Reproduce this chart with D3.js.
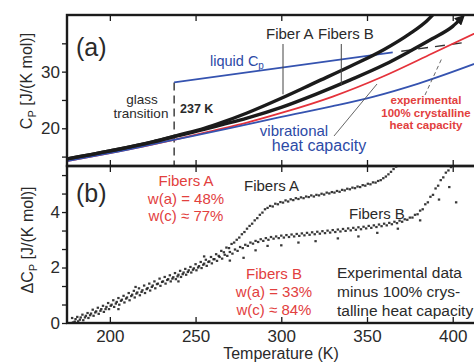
<!DOCTYPE html>
<html>
<head>
<meta charset="utf-8">
<script src="https://cdn.jsdelivr.net/npm/d3@7/dist/d3.min.js"></script>
<style>
  html, body { margin: 0; padding: 0; background: #fff; }
  svg { display: block; }
  text { font-family: "Liberation Sans", Arial, sans-serif; }
</style>
</head>
<body>
<svg id="chart" width="474" height="362"></svg>
<script>
// ---- Temperature axis ----
const tempTicks = [200, 250, 300, 350, 400];

// ---- Panel (a): heat capacity, J/(K mol) ----
const cpTicks = [15, 20, 25, 30, 35];
const cpLabeled = [20, 30];
const glassT = 237.5;

const fiberA = [[175,14.6],[200,16.0],[225,17.6],[240,18.8],[255,20.0],[265,21.0],[280,22.7],[300,25.3],[320,28.1],[340,30.9],[360,33.9],[375,36.7],[385,39.0],[392,41.2]];
const fibersB = [[175,14.6],[200,16.0],[225,17.6],[240,18.7],[255,19.8],[265,20.6],[280,21.8],[300,23.7],[320,26.0],[340,28.5],[360,31.2],[375,33.6],[388,35.8],[400,38.0],[405,39.4]];
const crystalline = [[175,14.2],[200,15.6],[238,18.0],[260,19.55],[280,21.0],[300,22.7],[330,25.6],[359,29.1],[388,33.2],[420,37.8]];
const vibrational = [[175,14.2],[200,15.6],[238,18.0],[268,19.9],[300,22.0],[330,23.9],[354,25.6],[380,27.9],[420,32.2]];
const liquid = [[237.5,28.1],[365,33.4]];
const liquidExtension = [[370,33.6],[406,35.1]];

// ---- Panel (b): excess heat capacity, J/(K mol) ----
const dcpTicks = [0, 2/3, 4/3, 2, 8/3, 10/3, 4, 14/3, 16/3];
const dcpLabeled = [0, 2, 4];

const deltaA = [[178,0.18],[179.5,0.05],[181,0.22],[182.5,0.12],[184,0.3],[185.5,0.2],[187,0.36],[188.5,0.28],[190,0.48],[191.5,0.38],[193,0.55],[194.5,0.44],[196,0.62],[197.5,0.5],[199,0.72],[200.5,0.62],[202,0.82],[203.5,0.7],[205,0.9],[206.5,0.8],[208,0.98],[209.5,0.88],[211,1.08],[212.5,0.97],[214,1.16],[215.5,1.06],[217,1.25],[218.5,1.12],[220,1.35],[221.5,1.22],[223,1.42],[224.5,1.3],[226,1.5],[227.5,1.4],[229,1.6],[230.5,1.48],[232,1.66],[233.5,1.55],[235,1.72],[236.5,1.6],[238,1.8],[239.5,1.68],[241,1.88],[242.5,1.76],[244,1.95],[245.5,1.84],[247,2.02],[248.5,1.92],[250,2.12],[251.5,2.0],[253,2.2],[254.5,2.1],[256,2.28],[257.5,2.2],[259,2.38],[260.5,2.3],[262,2.48],[263.5,2.42],[265,2.6],[266.5,2.55],[268,2.72],[269.5,2.7],[271,2.85],[272.5,2.9],[274,3.0],[275.5,3.08],[277,3.2],[278.5,3.28],[280,3.4],[281.5,3.5],[283,3.58],[284.5,3.7],[286,3.78],[287.5,3.9],[289,3.98],[290.5,4.1],[292,4.15],[293.5,4.22],[295,4.2],[296.5,4.3],[298,4.28],[299.5,4.36],[301,4.34],[302.5,4.42],[304,4.38],[305.5,4.46],[307,4.43],[308.5,4.5],[310,4.47],[311.5,4.53],[313,4.5],[314.5,4.56],[316,4.54],[317.5,4.6],[319,4.56],[320.5,4.62],[322,4.6],[323.5,4.66],[325,4.63],[326.5,4.7],[328,4.67],[329.5,4.72],[331,4.7],[332.5,4.76],[334,4.73],[335.5,4.8],[337,4.78],[338.5,4.84],[340,4.82],[341.5,4.88],[343,4.86],[344.5,4.92],[346,4.9],[347.5,4.97],[349,4.95],[350.5,5.02],[352,5.0],[353.5,5.07],[355,5.06],[356.5,5.12],[358,5.15],[359.5,5.22],[361,5.28],[362.5,5.36],[364,5.45],[365.5,5.55],[367,5.64]];

const deltaB = [[178.5,0.02],[180,0.14],[181.5,0.06],[183,0.2],[184.5,0.1],[186,0.26],[187.5,0.18],[189,0.34],[190.5,0.26],[192,0.42],[193.5,0.33],[195,0.5],[196.5,0.4],[198,0.58],[199.5,0.5],[201,0.66],[202.5,0.58],[204,0.76],[205.5,0.66],[207,0.84],[208.5,0.74],[210,0.92],[211.5,0.82],[213,1.02],[214.5,0.92],[216,1.1],[217.5,1.0],[219,1.18],[220.5,1.08],[222,1.26],[223.5,1.17],[225,1.35],[226.5,1.25],[228,1.42],[229.5,1.34],[231,1.5],[232.5,1.42],[234,1.58],[235.5,1.5],[237,1.65],[238.5,1.58],[240,1.74],[241.5,1.66],[243,1.82],[244.5,1.74],[246,1.9],[247.5,1.82],[249,1.97],[250.5,1.9],[252,2.05],[253.5,1.98],[255,2.14],[256.5,2.06],[258,2.22],[259.5,2.15],[261,2.3],[262.5,2.24],[264,2.38],[265.5,2.32],[267,2.46],[268.5,2.42],[270,2.56],[271.5,2.5],[273,2.65],[274.5,2.6],[276,2.74],[277.5,2.7],[279,2.82],[280.5,2.78],[282,2.9],[283.5,2.86],[285,2.96],[286.5,2.92],[288,3.02],[289.5,2.96],[291,3.06],[292.5,3.0],[294,3.1],[295.5,3.04],[297,3.12],[298.5,3.06],[300,3.15],[301.5,3.08],[303,3.17],[304.5,3.1],[306,3.19],[307.5,3.12],[309,3.21],[310.5,3.14],[312,3.23],[313.5,3.16],[315,3.25],[316.5,3.18],[318,3.27],[319.5,3.2],[321,3.29],[322.5,3.22],[324,3.31],[325.5,3.24],[327,3.33],[328.5,3.26],[330,3.35],[331.5,3.28],[333,3.37],[334.5,3.3],[336,3.39],[337.5,3.32],[339,3.41],[340.5,3.34],[342,3.43],[343.5,3.36],[345,3.45],[346.5,3.38],[348,3.47],[349.5,3.41],[351,3.5],[352.5,3.43],[354,3.52],[355.5,3.46],[357,3.55],[358.5,3.49],[360,3.58],[361.5,3.52],[363,3.61],[364.5,3.56],[366,3.65],[367.5,3.6],[369,3.69],[370.5,3.65],[372,3.74],[373.5,3.72],[375,3.8],[376.5,3.8],[378,3.9],[379.5,3.92],[381,4.05],[382.5,4.1],[384,4.28],[385.5,4.35],[387,4.55],[388.5,4.62],[390,4.85],[391.5,4.95],[393,5.15],[394.5,5.25],[396,5.42],[397.5,5.5],[399,5.62],
  [205,0.5],[215,1.3],[240,1.5],[255,2.4],[270,2.25],[278,2.35],[285,2.62],[292,2.78],[300,2.8],[310,2.9],[320,2.95],[333,3.05],[345,3.12],[356,3.25],[368,3.4],[381,3.7],[392,4.45],[398,4.9],[402,4.35]];

// ---- Layout ----
const svg = d3.select("#chart");
const left = 67, right = 487, topA = 15, mid = 166, bottomB = 323;

const x = d3.scaleLinear().domain([175, 420]).range([left, right]);
const yA = d3.scaleLinear().domain([13.34, 40]).range([mid, topA]);
const yB = d3.scaleLinear().domain([0, 5.66]).range([bottomB, mid]);

const BLUE = "#3553b0", RED = "#e5323b", BLUE_TEXT = "#2c4aa6", RED_TEXT = "#e2403e", INK = "#1b1b1b";

const defs = svg.append("defs");
defs.append("clipPath").attr("id", "clipA").append("rect")
  .attr("x", left).attr("y", topA).attr("width", right - left).attr("height", mid - topA);
defs.append("clipPath").attr("id", "clipB").append("rect")
  .attr("x", left).attr("y", mid).attr("width", right - left).attr("height", bottomB - mid);
defs.append("marker").attr("id", "tip").attr("viewBox", "0 0 10 10")
  .attr("refX", 5).attr("refY", 5).attr("markerWidth", 3).attr("markerHeight", 3)
  .attr("orient", "auto")
  .append("path").attr("d", "M0,0 L10,5 L0,10 z").attr("fill", INK);

// ---- Panel (a) curves ----
const lineA = d3.line().x(d => x(d[0])).y(d => yA(d[1])).curve(d3.curveMonotoneX);
const gA = svg.append("g").attr("clip-path", "url(#clipA)");

// glass transition marker and liquid heat capacity
gA.append("line")
  .attr("x1", x(glassT)).attr("x2", x(glassT))
  .attr("y1", yA(liquid[0][1])).attr("y2", mid)
  .attr("stroke", "#333").attr("stroke-width", 1.4).attr("stroke-dasharray", "8,5");
gA.append("path").datum(liquid).attr("d", lineA)
  .attr("fill", "none").attr("stroke", BLUE).attr("stroke-width", 1.6);
gA.append("path").datum(liquidExtension).attr("d", lineA)
  .attr("fill", "none").attr("stroke", "#333").attr("stroke-width", 1.4).attr("stroke-dasharray", "10,7");

gA.append("path").datum(crystalline).attr("d", lineA)
  .attr("fill", "none").attr("stroke", RED).attr("stroke-width", 1.8);
gA.append("path").datum(vibrational).attr("d", lineA)
  .attr("fill", "none").attr("stroke", BLUE).attr("stroke-width", 1.8);
gA.append("path").datum(fibersB).attr("d", lineA)
  .attr("fill", "none").attr("stroke", INK).attr("stroke-width", 3.4)
  .attr("marker-end", "url(#tip)");
gA.append("path").datum(fiberA).attr("d", lineA)
  .attr("fill", "none").attr("stroke", INK).attr("stroke-width", 3.4);

// pointers
svg.append("line").attr("x1", x(301)).attr("x2", x(301)).attr("y1", 44).attr("y2", yA(26.0))
  .attr("stroke", "#444").attr("stroke-width", 1);
svg.append("line").attr("x1", x(335)).attr("x2", x(335)).attr("y1", 44).attr("y2", yA(27.6))
  .attr("stroke", "#444").attr("stroke-width", 1);
svg.append("line").attr("x1", 334).attr("y1", 136).attr("x2", 377).attr("y2", 84)
  .attr("stroke", "#555").attr("stroke-width", 0.9);
svg.append("line").attr("x1", 425).attr("y1", 95).attr("x2", 442).attr("y2", 58)
  .attr("stroke", "#555").attr("stroke-width", 0.9).attr("stroke-dasharray", "4,3");

// ---- Panel (b) scatter: small dark specks ----
const gB = svg.append("g").attr("clip-path", "url(#clipB)");
[deltaA, deltaB].forEach(series => {
  gB.selectAll(null).data(series).enter().append("rect")
    .attr("x", d => x(d[0]) - 1.2).attr("y", d => yB(d[1]) - 1.1)
    .attr("width", 2.4).attr("height", 2.2)
    .attr("fill", "#222").attr("opacity", 0.9);
});

// ---- Frames ----
svg.append("rect").attr("x", left).attr("y", topA).attr("width", right - left).attr("height", mid - topA)
  .attr("fill", "none").attr("stroke", INK).attr("stroke-width", 2.4);
svg.append("rect").attr("x", left).attr("y", mid).attr("width", right - left).attr("height", bottomB - mid)
  .attr("fill", "none").attr("stroke", INK).attr("stroke-width", 2.4);

// ---- Axes ----
function styleAxis(g, fs) {
  g.select(".domain").remove();
  g.selectAll(".tick line").attr("stroke", INK).attr("stroke-width", 1.3);
  g.selectAll(".tick text").attr("fill", "#2a2a2a").attr("font-size", fs)
    .attr("font-family", "Liberation Sans, Arial, sans-serif");
}
svg.append("g").attr("transform", `translate(${left},0)`)
  .call(d3.axisLeft(yA).tickValues(cpTicks).tickSize(5).tickPadding(2)
    .tickFormat(d => cpLabeled.includes(d) ? d : ""))
  .call(g => styleAxis(g, 17));
svg.append("g").attr("transform", `translate(${left},0)`)
  .call(d3.axisLeft(yB).tickValues(dcpTicks).tickSize(5).tickPadding(2)
    .tickFormat(d => dcpLabeled.includes(d) ? d : ""))
  .call(g => styleAxis(g, 17));
svg.append("g").attr("transform", `translate(0,${topA})`)
  .call(d3.axisTop(x).tickValues(tempTicks).tickSize(-6).tickFormat(""))
  .call(g => styleAxis(g, 0));
svg.append("g").attr("transform", `translate(0,${mid})`)
  .call(d3.axisTop(x).tickValues(tempTicks).tickSize(6).tickFormat(""))
  .call(g => styleAxis(g, 0));
svg.append("g").attr("transform", `translate(0,${mid})`)
  .call(d3.axisBottom(x).tickValues(tempTicks).tickSize(6).tickFormat(""))
  .call(g => styleAxis(g, 0));
svg.append("g").attr("transform", `translate(0,${bottomB})`)
  .call(d3.axisBottom(x).tickValues(tempTicks).tickSizeInner(-6).tickSizeOuter(0).tickPadding(7))
  .call(g => styleAxis(g, 17));

// ---- Axis titles ----
svg.append("text").attr("x", 281).attr("y", 359).attr("text-anchor", "middle")
  .attr("font-size", 16).attr("fill", "#2a2a2a").text("Temperature  (K)");

const tA = svg.append("text").attr("transform", "translate(32,81) rotate(-90)")
  .attr("text-anchor", "middle").attr("font-size", 16).attr("fill", "#2a2a2a");
tA.append("tspan").text("C");
tA.append("tspan").attr("font-size", 11).attr("dy", 4).text("P");
tA.append("tspan").attr("dy", -4).text("  [J/(K mol)]");

const tB = svg.append("text").attr("transform", "translate(33,240) rotate(-90)")
  .attr("text-anchor", "middle").attr("font-size", 16).attr("fill", "#2a2a2a");
tB.append("tspan").text("ΔC");
tB.append("tspan").attr("font-size", 11).attr("dy", 4).text("P");
tB.append("tspan").attr("dy", -4).text("  [J/(K mol)]");

// ---- Panel labels ----
svg.append("text").attr("x", 76).attr("y", 56).attr("font-size", 25)
  .attr("font-family", "DejaVu Sans, sans-serif").attr("fill", "#2a2a2a").text("(a)");
svg.append("text").attr("x", 76).attr("y", 202).attr("font-size", 25)
  .attr("font-family", "DejaVu Sans, sans-serif").attr("fill", "#2a2a2a").text("(b)");

// ---- Panel (a) annotations ----
function label(xp, yp, str, opts = {}) {
  return svg.append("text").attr("x", xp).attr("y", yp)
    .attr("text-anchor", opts.anchor || "middle")
    .attr("font-size", opts.size || 14)
    .attr("font-weight", opts.weight || "normal")
    .attr("fill", opts.color || "#2a2a2a")
    .text(str);
}
label(266, 39, "Fiber A", {anchor: "start", size: 15});
label(318, 39, "Fibers B", {anchor: "start", size: 15});

const liq = svg.append("text").attr("x", 210).attr("y", 66).attr("font-size", 14.5).attr("fill", BLUE_TEXT);
liq.append("tspan").text("liquid C");
liq.append("tspan").attr("font-size", 10).attr("dy", 3).text("p");

label(142, 104, "glass", {size: 13.5});
label(141, 118, "transition", {size: 13.5});
label(180, 113, "237 K", {anchor: "start", size: 12.5, weight: "bold"});

label(294, 136, "vibrational", {size: 15, color: BLUE_TEXT});
label(319, 151, "heat capacity", {size: 16, color: BLUE_TEXT});

label(426, 104, "experimental", {size: 11.5, weight: "bold", color: RED_TEXT});
label(426, 116.5, "100% crystalline", {size: 11.5, weight: "bold", color: RED_TEXT});
label(426, 129, "heat capacity", {size: 11.5, weight: "bold", color: RED_TEXT});

// ---- Panel (b) annotations ----
label(186, 186, "Fibers A", {size: 15, color: RED_TEXT});
label(186, 204, "w(a) = 48%", {size: 15, color: RED_TEXT});
label(186, 221, "w(c) ≈ 77%", {size: 15, color: RED_TEXT});

label(244, 191, "Fibers A", {anchor: "start", size: 15});
label(349, 219, "Fibers B", {anchor: "start", size: 15});

label(274, 279, "Fibers B", {size: 15, color: RED_TEXT});
label(274, 297, "w(a) = 33%", {size: 15, color: RED_TEXT});
label(274, 315, "w(c) ≈ 84%", {size: 15, color: RED_TEXT});

label(337, 278, "Experimental data", {anchor: "start", size: 15.5});
label(337, 297, "minus 100% crys-", {anchor: "start", size: 15.5});
label(337, 316, "talline heat capacity", {anchor: "start", size: 15.5});
</script>
</body>
</html>
